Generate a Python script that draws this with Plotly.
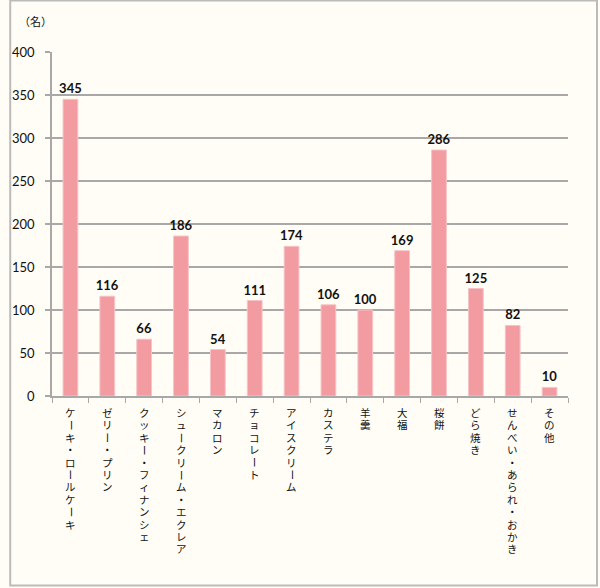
import plotly.graph_objects as go

categories = ["ケーキ・ロールケーキ", "ゼリー・プリン", "クッキー・フィナンシェ", "シュークリーム・エクレア",
              "マカロン", "チョコレート", "アイスクリーム", "カステラ", "羊羹", "大福", "桜餅",
              "どら焼き", "せんべい・あられ・おかき", "その他"]
values = [345, 116, 66, 186, 54, 111, 174, 106, 100, 169, 286, 125, 82, 10]
y_ticks = [0, 50, 100, 150, 200, 250, 300, 350, 400]
unit_label = "（名）"

W, H = 600, 588
L, R, T, B = 43, 568, 52, 396  # plot area in pixels

bar_color = "#F29BA1"
grid_color = "#A8A8A8"
bg = "#FFFDF6"
jp_font = "'Noto Sans CJK JP', sans-serif"
lbl_font = "'Liberation Sans', 'Noto Sans CJK JP', sans-serif"
num_font = "Lato, 'Open Sans', sans-serif"

pw, ph = R - L, B - T
def px_x(p):
    return (p - L) / pw
def px_y(p):
    return (B - p) / ph


fig = go.Figure()
fig.add_trace(go.Bar(
    x=categories, y=values,
    marker=dict(color=bar_color, line=dict(color="#F7C3C6", width=1)),
    text=[str(v) for v in values], textposition="outside",
    constraintext="none",
    textfont=dict(family=num_font, size=13, color="#111111", weight="bold"),
    cliponaxis=False,
    hoverinfo="x+y",
))

# vertical (tategaki) category labels: one upright character per line
annotations = []
pitch = 12.4
start = 413.0
for cat in categories:
    for i, ch in enumerate(cat):
        annotations.append(dict(
            text=ch, x=cat, xref="x", yref="paper", y=px_y(start + i * pitch),
            xanchor="center", yanchor="middle", showarrow=False, borderpad=0,
            textangle=90 if ch == "ー" else 0,
            font=dict(family=lbl_font, size=10.5, color="#111111"),
        ))

annotations.append(dict(
    text=unit_label, xref="paper", yref="paper",
    x=px_x(26), y=px_y(21), xanchor="center", yanchor="middle",
    showarrow=False, font=dict(family=jp_font, size=11, color="#111111"),
))

fig.update_layout(
    width=W, height=H,
    margin=dict(l=L, r=W - R, t=T, b=H - B),
    paper_bgcolor=bg, plot_bgcolor=bg,
    bargap=0.6,
    showlegend=False,
    font=dict(family=jp_font, color="#111111"),
    xaxis=dict(
        showticklabels=False,
        showline=True, linecolor=grid_color, linewidth=1.5,
        ticks="outside", tickson="boundaries", ticklen=5, tickcolor=grid_color, tickwidth=1,
        showgrid=False,
    ),
    yaxis=dict(
        range=[0, 400], tickmode="array", tickvals=y_ticks,
        tickfont=dict(family=num_font, size=13, color="#111111"),
        showline=True, linecolor=grid_color, linewidth=1.5,
        ticks="outside", ticklen=5, tickcolor=grid_color, tickwidth=1.5,
        showgrid=True, gridcolor=grid_color, gridwidth=1.5,
        zeroline=False, ticklabelstandoff=8,
    ),
    annotations=annotations,
    shapes=[dict(
        type="rect", xref="paper", yref="paper",
        x0=px_x(0.5), x1=px_x(597.5), y0=px_y(585.5), y1=px_y(0.5),
        line=dict(color="#BBBBBB", width=2), fillcolor="rgba(0,0,0,0)", layer="below",
    )],
)

fig.write_html("out.html")
